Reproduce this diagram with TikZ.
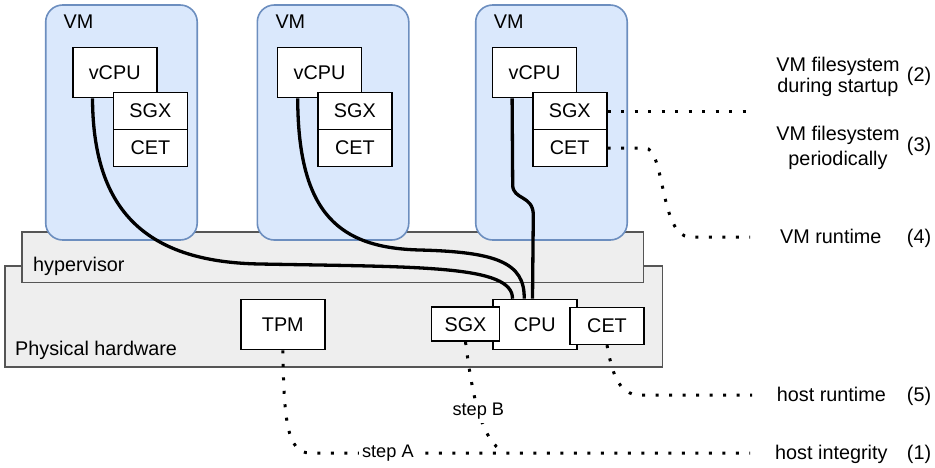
\documentclass[tikz,border=0pt]{standalone}
\usepackage{fontspec}
\setmainfont{Liberation Sans}
\usepackage{xcolor}
\definecolor{vmfill}{HTML}{DAE8FC}
\definecolor{vmline}{HTML}{6C8EBF}
\definecolor{hwfill}{HTML}{EEEEEE}
\definecolor{hwline}{HTML}{555555}

\tikzset{
  layer/.style={draw=hwline, fill=hwfill, line width=1.6pt},
  vmbox/.style={draw=vmline, fill=vmfill, line width=1.6pt, rounded corners=17pt},
  unit/.style={draw, fill=white, line width=1.6pt, minimum width=84pt, minimum height=50pt},
  ext/.style={unit, minimum width=74pt, minimum height=37pt},
  link/.style={line width=3.3pt},
  trace/.style={line width=3pt, dash pattern=on 3pt off 10.5pt},
  steplbl/.style={fill=white, inner sep=3pt, font=\fontsize{18.2}{20}\selectfont},
}

\begin{document}
\begin{tikzpicture}[x=1pt, y=-1pt, inner sep=0pt, font=\fontsize{19.8}{22}\selectfont]
\useasboundingbox (0,0) rectangle (935,467);

% host layers
\draw[layer] (5,265.7) rectangle (662.3,366.7);
\node[anchor=base west] (hwlbl) at (15,355) {Physical hardware};
\draw[layer] (21.7,232) rectangle (643.3,282.3);
\node[anchor=base west] (hvlbl) at (33,271.5) {hypervisor};

% virtual machines
\draw[vmbox] (45.7,5) rectangle (197.2,240);
\draw[vmbox] (257.3,5) rectangle (408.8,240);
\draw[vmbox] (475.7,5) rectangle (627.2,240);
\node[anchor=base west] (vmA) at (63.5,28.3) {VM};
\node[anchor=base west] (vmB) at (275.3,28.3) {VM};
\node[anchor=base west] (vmC) at (493.7,28.3) {VM};

\node[unit] (vcpuA) at (114.7,72.5) {vCPU};
\node[ext] (sgxA) at (150.3,111) {SGX};
\node[ext] (cetA) at (150.3,148) {CET};
\node[unit] (vcpuB) at (319.5,72.5) {vCPU};
\node[ext] (sgxB) at (354.8,111) {SGX};
\node[ext] (cetB) at (354.8,148) {CET};
\node[unit] (vcpuC) at (534.5,72.5) {vCPU};
\node[ext] (sgxC) at (569.7,111) {SGX};
\node[ext] (cetC) at (569.7,148) {CET};

% physical units
\node[unit] (tpm) at (282.8,324.5) {TPM};
\node[unit] (cpu) at (534.7,324.5) {CPU};
\node[ext, minimum width=68pt, minimum height=34pt] (sgxH) at (465.5,324.2) {SGX};
\node[ext] (cetH) at (607,325.8) {CET};

% vCPU -> CPU
\draw[link] ([xshift=20.6pt]vcpuA.south west) .. controls (93,205) and (140,262) .. (260,264)
  .. controls (420,267) and (513,265) .. ([xshift=20.6pt]cpu.north west);
\draw[link] ([xshift=21pt]vcpuB.south west) .. controls (298,215) and (340,248) .. (420,250)
  .. controls (495,252) and (525,262) .. ([xshift=32.3pt]cpu.north west);
\draw[link] ([xshift=20.4pt]vcpuC.south west) -- (512.7,185) .. controls (512.7,200) and (533.3,195) .. (533.3,215)
  -- ([xshift=40.6pt]cpu.north west);

% measurement labels
\node[align=center] (fsStart) at (838,76.8) {VM filesystem\\[-1.5pt]during startup};
\node (n2) at (919,76.7) {(2)};
\node[align=center] (fsPeriod) at (838,148.1) {VM filesystem\\[3pt]periodically};
\node (n3) at (919,146.7) {(3)};
\node[anchor=base west] (vmRun) at (780,243.3) {VM runtime};
\node[anchor=base] (n4) at (919,243.3) {(4)};
\node[anchor=base west] (hostRun) at (776.7,401.7) {host runtime};
\node[anchor=base] (n5) at (919,401.7) {(5)};
\node[anchor=base west] (hostInt) at (775,459.4) {host integrity};
\node[anchor=base] (n1) at (919,459.4) {(1)};

\coordinate (endStart) at (750,111);
\coordinate (endVmRun) at (750,237);
\coordinate (endHostRun) at (752,395);
\coordinate (endHostInt) at (750,453);
\coordinate (join) at (505,453);

% dotted measurement paths
\draw[trace] (sgxC.east) -- (endStart);
\draw[trace] (cetC.east) -- (645,148) .. controls (665,148) and (660,237) .. (690,237) -- (endVmRun);
\draw[trace] (cetH.south) .. controls (612,372) and (618,395) .. (640,395) -- (endHostRun);
\draw[trace] (tpm.south) .. controls (284,420) and (287,453) .. (310,453)
  -- node[steplbl, pos=0.177] (stepA) {step A} (endHostInt);
\draw[trace] (sgxH.south) .. controls (472,392) and (480,440) .. node[steplbl, pos=0.5] (stepB) {step B} (join);
\end{tikzpicture}
\end{document}
